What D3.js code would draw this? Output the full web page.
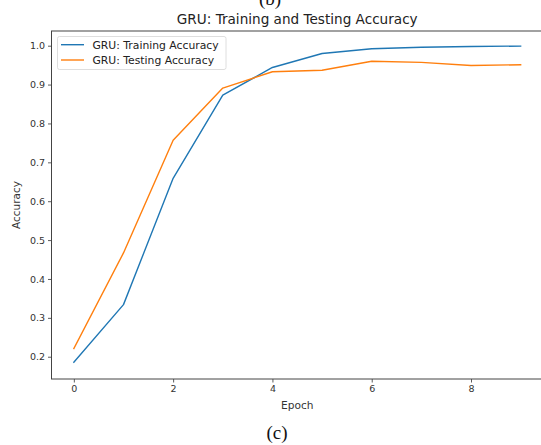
<!DOCTYPE html>
<html>
<head>
<meta charset="utf-8">
<script src="https://cdn.jsdelivr.net/npm/d3@7"></script>
<style>
  html, body { margin: 0; padding: 0; background: #fff; }
  svg { display: block; }
  text { font-family: "DejaVu Sans", sans-serif; }
</style>
</head>
<body>
<svg id="chart" width="541" height="445"></svg>
<script>
// Per-epoch accuracy of the GRU model
const epochs = [0, 1, 2, 3, 4, 5, 6, 7, 8, 9];
const trainAcc = [0.186, 0.334, 0.659, 0.873, 0.944, 0.980, 0.992, 0.996, 0.998, 0.999];
const testAcc  = [0.221, 0.467, 0.757, 0.891, 0.933, 0.937, 0.960, 0.957, 0.949, 0.951];
const seriesNames = ["GRU: Training Accuracy", "GRU: Testing Accuracy"];
const seriesColors = ["#1f77b4", "#ff7f0e"];
const xTicks = [0, 2, 4, 6, 8];
const yTicks = [0.2, 0.3, 0.4, 0.5, 0.6, 0.7, 0.8, 0.9, 1.0];

const svg = d3.select("#chart");
const plot = { left: 51.5, right: 543, top: 31, bottom: 379 };

const x = d3.scaleLinear().domain([-0.45, 9.45]).range([plot.left, plot.right]);
const y = d3.scaleLinear().domain([0.1427, 1.0378]).range([plot.bottom, plot.top]);

// Figure labels above and below the panel
svg.append("text").attr("x", 270).attr("y", 5)
  .attr("text-anchor", "middle")
  .style("font-family", "'Liberation Serif', 'DejaVu Serif', serif")
  .style("font-size", "19px").attr("fill", "#111").text("(b)");
svg.append("text").attr("x", 277).attr("y", 439)
  .attr("text-anchor", "middle")
  .style("font-family", "'Liberation Serif', 'DejaVu Serif', serif")
  .style("font-size", "19px").attr("fill", "#111").text("(c)");

// Title
svg.append("text").attr("x", (plot.left + plot.right) / 2).attr("y", 23.5)
  .attr("text-anchor", "middle").style("font-size", "13.6px").attr("fill", "#222")
  .text("GRU: Training and Testing Accuracy");

// Axes
const xAxis = d3.axisBottom(x).tickValues(xTicks).tickFormat(d3.format("d"))
  .tickSizeInner(3.5).tickSizeOuter(0).tickPadding(3);
const yAxis = d3.axisLeft(y).tickValues(yTicks).tickFormat(d3.format(".1f"))
  .tickSizeInner(3.5).tickSizeOuter(0).tickPadding(3);

const gx = svg.append("g").attr("transform", `translate(0,${plot.bottom})`).call(xAxis);
const gy = svg.append("g").attr("transform", `translate(${plot.left},0)`).call(yAxis);
[gx, gy].forEach(g => {
  g.select(".domain").remove();
  g.selectAll(".tick line").attr("stroke", "#333").attr("stroke-width", 0.8);
  g.selectAll(".tick text").attr("fill", "#333").style("font-size", "9.5px")
    .style("font-family", "'DejaVu Sans', sans-serif");
});

// Spines (right edge falls outside the canvas)
svg.append("rect")
  .attr("x", plot.left).attr("y", plot.top)
  .attr("width", plot.right - plot.left).attr("height", plot.bottom - plot.top)
  .attr("fill", "none").attr("stroke", "#444").attr("stroke-width", 1);

// Axis labels
svg.append("text").attr("x", (plot.left + plot.right) / 2).attr("y", 408.5)
  .attr("text-anchor", "middle").style("font-size", "10.6px").attr("fill", "#333").text("Epoch");
svg.append("text")
  .attr("transform", `translate(19.5,${(plot.top + plot.bottom) / 2}) rotate(-90)`)
  .attr("text-anchor", "middle").style("font-size", "10.5px").attr("fill", "#333").text("Accuracy");

// Series lines
const line = d3.line().x((d, i) => x(epochs[i])).y(d => y(d));
[trainAcc, testAcc].forEach((vals, k) => {
  svg.append("path").datum(vals)
    .attr("d", line)
    .attr("fill", "none")
    .attr("stroke", seriesColors[k])
    .attr("stroke-width", 1.4)
    .attr("stroke-linejoin", "round")
    .attr("stroke-linecap", "square");
});

// Legend
const lg = svg.append("g");
lg.append("rect").attr("x", 57.5).attr("y", 36.5).attr("width", 168.5).attr("height", 33)
  .attr("rx", 2).attr("fill", "#fff").attr("fill-opacity", 0.8)
  .attr("stroke", "#d6d6d6").attr("stroke-width", 0.8);
seriesNames.forEach((name, k) => {
  const ly = 44.7 + k * 15.3;
  lg.append("line").attr("x1", 61).attr("x2", 84).attr("y1", ly).attr("y2", ly)
    .attr("stroke", seriesColors[k]).attr("stroke-width", 1.4);
  lg.append("text").attr("x", 92.5).attr("y", ly + 3.8)
    .style("font-size", "10.8px").attr("fill", "#222").text(name);
});
</script>
</body>
</html>
